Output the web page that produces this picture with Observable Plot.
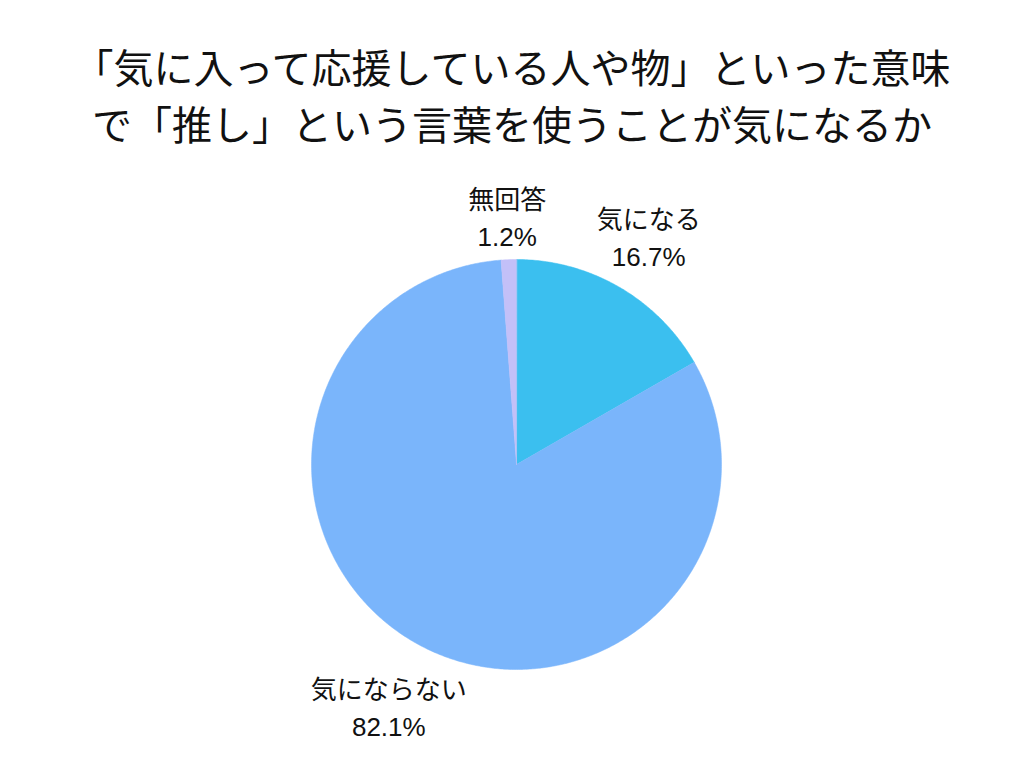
<!DOCTYPE html>
<html>
<head>
<meta charset="utf-8">
<script src="https://cdn.jsdelivr.net/npm/d3@7"></script>
<script src="https://cdn.jsdelivr.net/npm/@observablehq/plot@0.6"></script>
<style>
  html, body { margin: 0; padding: 0; background: #fff; }
  #wrap { position: relative; width: 1024px; height: 768px; overflow: hidden; }
  #chart { position: absolute; left: 0; top: 0; }
  #title {
    position: absolute; left: 0; top: 38px; width: 1024px;
    text-align: center; font-family: "Noto Sans CJK JP", sans-serif;
    font-size: 40px; line-height: 57px; color: #111; white-space: nowrap;
  }
</style>
</head>
<body>
<div id="wrap">
  <div id="chart"></div>
  <div id="title"></div>
</div>
<script>
const titleLines = ["「気に入って応援している人や物」といった意味", "で「推し」という言葉を使うことが気になるか"];
const categories = ["気になる", "気にならない", "無回答"];
const values = [16.7, 82.1, 1.2];
const colors = ["#3bbfef", "#7ab5fb", "#c3c0f8"];

document.getElementById("title").innerHTML = titleLines.map(t => `<div>${t}</div>`).join("");

const W = 1024, H = 768, cx = 516, cy = 464, R = 205;
const total = d3.sum(values);
let acc = 0;
const slices = categories.map((c, i) => {
  const a0 = acc / total * 2 * Math.PI;
  acc += values[i];
  const a1 = acc / total * 2 * Math.PI;
  return {cat: c, value: values[i], a0, a1};
});

const pts = [];
for (const s of slices) {
  pts.push({cat: s.cat, x: 0, y: 0});
  const n = Math.max(2, Math.ceil((s.a1 - s.a0) / (Math.PI / 360)));
  for (let k = 0; k <= n; k++) {
    const a = s.a0 + (s.a1 - s.a0) * k / n;
    pts.push({cat: s.cat, x: Math.sin(a), y: Math.cos(a)});
  }
}

// label placement: box just outside the pie along the mid-angle
const fs = 26, gap = 10;
const labels = slices.map(s => {
  const m = (s.a0 + s.a1) / 2;
  const hw = s.cat.length * fs * 0.4;
  const hh = fs * 1.25;
  const r = R + gap + Math.abs(Math.sin(m)) * hw + Math.abs(Math.cos(m)) * hh;
  return {x: Math.sin(m) * r / R, y: Math.cos(m) * r / R, text: s.cat + "\n" + s.value.toFixed(1) + "%"};
});

const chart = Plot.plot({
  width: W, height: H, margin: 0,
  x: {domain: [-cx / R, (W - cx) / R], axis: null},
  y: {domain: [-(H - cy) / R, cy / R], axis: null},
  color: {domain: categories, range: colors},
  style: {background: "transparent"},
  marks: [
    Plot.line(pts, {x: "x", y: "y", z: "cat", fill: "cat", stroke: "cat", strokeWidth: 0.5, curve: "linear-closed"}),
    Plot.text(labels, {x: "x", y: "y", text: "text", fontSize: fs, lineHeight: 1.4, fill: "#111",
      fontFamily: "'Liberation Sans', 'Noto Sans CJK JP', sans-serif"})
  ]
});
document.getElementById("chart").appendChild(chart);
</script>
</body>
</html>
